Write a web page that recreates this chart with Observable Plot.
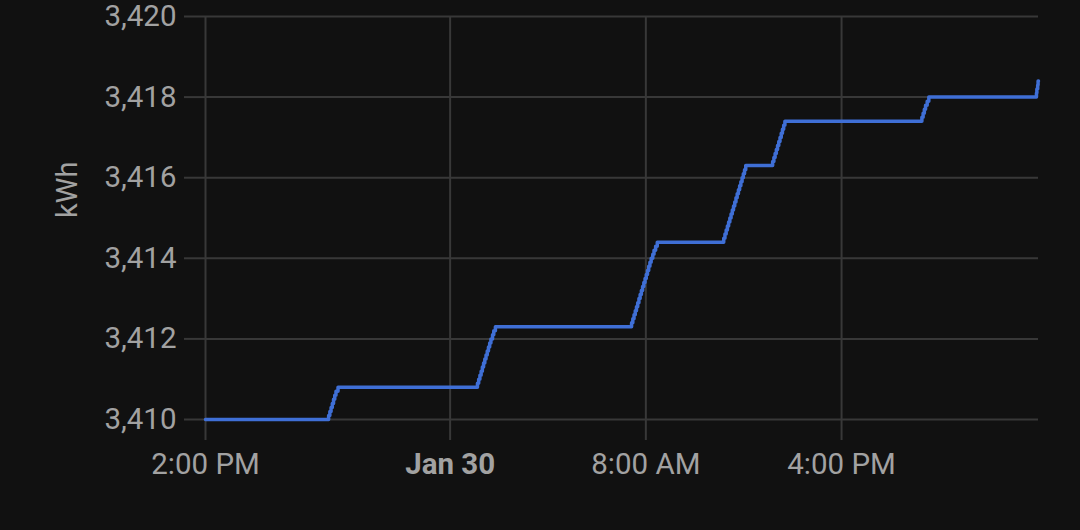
<!DOCTYPE html>
<html>
<head>
<meta charset="utf-8">
<script src="https://cdn.jsdelivr.net/npm/d3@7"></script>
<script src="https://cdn.jsdelivr.net/npm/@observablehq/plot@0.6"></script>
<style>
  html, body { margin: 0; padding: 0; background: #111111; }
  #chart svg { display: block; }
</style>
</head>
<body>
<div id="chart"></div>
<script>
// Energy meter reading (kWh), cumulative, step changes of 0.1 kWh
const times = [
  "2024-01-29T14:00Z",
  "2024-01-29T19:02Z","2024-01-29T19:05Z","2024-01-29T19:08Z","2024-01-29T19:11Z",
  "2024-01-29T19:14Z","2024-01-29T19:17Z","2024-01-29T19:20Z","2024-01-29T19:25Z",
  "2024-01-30T01:07Z","2024-01-30T01:10Z","2024-01-30T01:13Z","2024-01-30T01:16Z",
  "2024-01-30T01:19Z","2024-01-30T01:22Z","2024-01-30T01:25Z","2024-01-30T01:28Z",
  "2024-01-30T01:31Z","2024-01-30T01:34Z","2024-01-30T01:37Z","2024-01-30T01:40Z",
  "2024-01-30T01:44Z","2024-01-30T01:47Z","2024-01-30T01:51Z",
  "2024-01-30T07:25Z","2024-01-30T07:28Z","2024-01-30T07:31Z","2024-01-30T07:34Z",
  "2024-01-30T07:37Z","2024-01-30T07:40Z","2024-01-30T07:43Z","2024-01-30T07:46Z",
  "2024-01-30T07:49Z","2024-01-30T07:52Z","2024-01-30T07:55Z","2024-01-30T07:58Z",
  "2024-01-30T08:01Z","2024-01-30T08:04Z","2024-01-30T08:07Z","2024-01-30T08:10Z",
  "2024-01-30T08:13Z","2024-01-30T08:17Z","2024-01-30T08:20Z","2024-01-30T08:24Z",
  "2024-01-30T08:28Z",
  "2024-01-30T11:11Z","2024-01-30T11:14Z","2024-01-30T11:17Z","2024-01-30T11:20Z",
  "2024-01-30T11:23Z","2024-01-30T11:26Z","2024-01-30T11:29Z","2024-01-30T11:32Z",
  "2024-01-30T11:35Z","2024-01-30T11:38Z","2024-01-30T11:41Z","2024-01-30T11:44Z",
  "2024-01-30T11:47Z","2024-01-30T11:50Z","2024-01-30T11:53Z","2024-01-30T11:56Z",
  "2024-01-30T11:59Z","2024-01-30T12:02Z","2024-01-30T12:05Z",
  "2024-01-30T13:11Z","2024-01-30T13:14Z","2024-01-30T13:17Z","2024-01-30T13:20Z",
  "2024-01-30T13:23Z","2024-01-30T13:26Z","2024-01-30T13:29Z","2024-01-30T13:32Z",
  "2024-01-30T13:35Z","2024-01-30T13:38Z","2024-01-30T13:41Z",
  "2024-01-30T19:17Z","2024-01-30T19:20Z","2024-01-30T19:23Z","2024-01-30T19:26Z",
  "2024-01-30T19:30Z","2024-01-30T19:34Z",
  "2024-01-30T23:58Z","2024-01-30T23:59Z","2024-01-31T00:01Z","2024-01-31T00:02Z",
  "2024-01-31T00:03Z"
];
const kwh = [
  3410.0,
  3410.1,3410.2,3410.3,3410.4,3410.5,3410.6,3410.7,3410.8,
  3410.9,3411.0,3411.1,3411.2,3411.3,3411.4,3411.5,3411.6,
  3411.7,3411.8,3411.9,3412.0,3412.1,3412.2,3412.3,
  3412.4,3412.5,3412.6,3412.7,3412.8,3412.9,3413.0,3413.1,
  3413.2,3413.3,3413.4,3413.5,3413.6,3413.7,3413.8,3413.9,
  3414.0,3414.1,3414.2,3414.3,3414.4,
  3414.5,3414.6,3414.7,3414.8,3414.9,3415.0,3415.1,3415.2,
  3415.3,3415.4,3415.5,3415.6,3415.7,3415.8,3415.9,3416.0,
  3416.1,3416.2,3416.3,
  3416.4,3416.5,3416.6,3416.7,3416.8,3416.9,3417.0,3417.1,
  3417.2,3417.3,3417.4,
  3417.5,3417.6,3417.7,3417.8,3417.9,3418.0,
  3418.1,3418.2,3418.3,3418.4,
  3418.4
];
const xDomain = ["2024-01-29T14:00Z", "2024-01-31T00:03Z"];
const xTicks = ["2024-01-29T14:00Z", "2024-01-30T00:00Z", "2024-01-30T08:00Z", "2024-01-30T16:00Z"];
const xTickLabels = ["2:00 PM", "Jan 30", "8:00 AM", "4:00 PM"];
const xTickBold = [false, true, false, false];
const yTicks = [3410, 3412, 3414, 3416, 3418, 3420];
const yLabel = "kWh";

const data = times.map((t, i) => ({time: new Date(t), value: kwh[i]}));
const tickDates = xTicks.map(t => new Date(t));
const labelFor = d => xTickLabels[tickDates.findIndex(t => +t === +d)];
const normalTicks = tickDates.filter((d, i) => !xTickBold[i]);
const boldTicks = tickDates.filter((d, i) => xTickBold[i]);

const gridColor = "#383838";
const textColor = "#a2a2a2";
const lineColor = "#3f6fd6";

const chart = Plot.plot({
  width: 1080,
  height: 530,
  marginLeft: 205,
  marginRight: 42,
  marginTop: 16,
  marginBottom: 111,
  style: {background: "#111111", color: textColor, fontFamily: "Roboto, sans-serif", fontSize: "29.5px", overflow: "visible"},
  x: {type: "utc", domain: xDomain.map(d => new Date(d))},
  y: {domain: [3410, 3420]},
  marks: [
    Plot.gridY(yTicks, {stroke: gridColor, strokeOpacity: 1, strokeWidth: 2}),
    Plot.gridX(tickDates, {stroke: gridColor, strokeOpacity: 1, strokeWidth: 2}),
    Plot.axisY(yTicks, {tickSize: 21, tickPadding: 8, stroke: gridColor, strokeWidth: 2, tickFormat: d3.format(","), label: null, fill: textColor}),
    Plot.axisX(normalTicks, {tickSize: 21, tickPadding: 13, stroke: gridColor, strokeWidth: 2, tickFormat: labelFor, label: null, fill: textColor}),
    Plot.axisX(boldTicks, {tickSize: 21, tickPadding: 13, stroke: gridColor, strokeWidth: 2, tickFormat: labelFor, label: null, fill: textColor, fontWeight: "bold"}),
    Plot.text([yLabel], {frameAnchor: "left", dx: -138, rotate: -90, text: d => d, fill: textColor, fontSize: 29}),
    Plot.line(data, {x: "time", y: "value", curve: "step-after", stroke: lineColor, strokeWidth: 3.5})
  ]
});
document.getElementById("chart").appendChild(chart);
</script>
</body>
</html>
